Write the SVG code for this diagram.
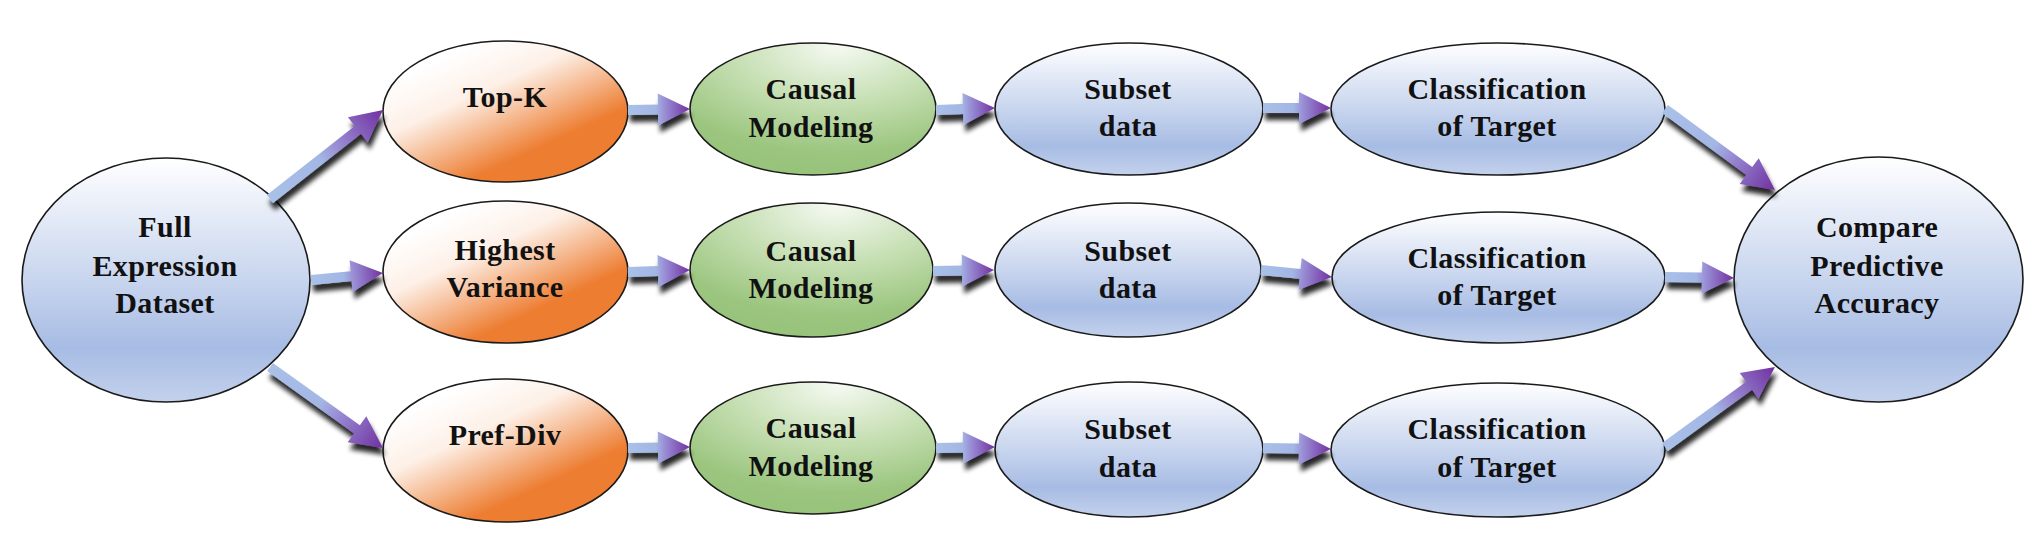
<svg xmlns="http://www.w3.org/2000/svg" width="2044" height="548" viewBox="0 0 2044 548">
<defs>
<linearGradient id="gBlue" x1="0" y1="0" x2="0" y2="1">
<stop offset="0" stop-color="#ffffff"/>
<stop offset="0.15" stop-color="#eef2fa"/>
<stop offset="0.5" stop-color="#c8d5ee"/>
<stop offset="0.78" stop-color="#a7bce4"/>
<stop offset="1" stop-color="#c3d1ec"/>
</linearGradient>
<linearGradient id="gOrange" x1="0.2" y1="0.15" x2="0.8" y2="0.9">
<stop offset="0" stop-color="#ffffff"/>
<stop offset="0.3" stop-color="#fdf0e7"/>
<stop offset="0.55" stop-color="#f5b58a"/>
<stop offset="0.78" stop-color="#ed7d31"/>
<stop offset="1" stop-color="#ed7d31"/>
</linearGradient>
<radialGradient id="gGreen" cx="0.6" cy="0.02" r="0.95" fx="0.6" fy="0.02">
<stop offset="0" stop-color="#f6faf3"/>
<stop offset="0.45" stop-color="#c6dfb3"/>
<stop offset="0.85" stop-color="#9cc680"/>
<stop offset="1" stop-color="#98c37b"/>
</radialGradient>
<linearGradient id="gArrow" x1="0" y1="0" x2="1" y2="0">
<stop offset="0" stop-color="#a9c1e9"/>
<stop offset="0.45" stop-color="#a3b6e4"/>
<stop offset="0.6" stop-color="#988cd4"/>
<stop offset="1" stop-color="#7030a0"/>
</linearGradient>
<filter id="shadow" filterUnits="userSpaceOnUse" x="0" y="0" width="2044" height="548">
<feGaussianBlur in="SourceAlpha" stdDeviation="2.6"/>
<feOffset dx="2" dy="7" result="b"/>
<feComponentTransfer><feFuncA type="linear" slope="0.85"/></feComponentTransfer>
<feMerge><feMergeNode/><feMergeNode in="SourceGraphic"/></feMerge>
</filter>
</defs>
<style>
.node ellipse{stroke:#1a1a1a;stroke-width:1.6}
.blue{fill:url(#gBlue)}
.orange{fill:url(#gOrange)}
.green{fill:url(#gGreen)}
text{font-family:"Liberation Serif","Times New Roman",serif;font-weight:bold;font-size:30px;fill:#111;text-anchor:middle;letter-spacing:0.4px}
.arrow{fill:url(#gArrow)}
</style>
<rect width="2044" height="548" fill="#ffffff"/>

<g id="n-full" class="node"><ellipse class="blue" cx="166" cy="280" rx="144" ry="122"/>
<text x="165" y="237">Full</text><text x="165" y="276">Expression</text><text x="165" y="313">Dataset</text></g>

<g id="n-topk" class="node"><ellipse class="orange" cx="505.5" cy="111.5" rx="122.5" ry="70.5"/>
<text x="505" y="107">Top-K</text></g>
<g id="n-hv" class="node"><ellipse class="orange" cx="505.5" cy="272" rx="122.5" ry="71"/>
<text x="505" y="260">Highest</text><text x="505" y="297">Variance</text></g>
<g id="n-pd" class="node"><ellipse class="orange" cx="505.5" cy="450.5" rx="122.5" ry="71.5"/>
<text x="505" y="445">Pref-Div</text></g>

<g id="n-causal1" class="node"><ellipse class="green" cx="813" cy="109" rx="123" ry="66"/>
<text x="811" y="99">Causal</text><text x="811" y="137">Modeling</text></g>
<g id="n-causal2" class="node"><ellipse class="green" cx="811.5" cy="270" rx="121.5" ry="67"/>
<text x="811" y="261">Causal</text><text x="811" y="298">Modeling</text></g>
<g id="n-causal3" class="node"><ellipse class="green" cx="813" cy="448" rx="123" ry="66"/>
<text x="811" y="438">Causal</text><text x="811" y="476">Modeling</text></g>

<g id="n-subset1" class="node"><ellipse class="blue" cx="1129" cy="109" rx="134" ry="66"/>
<text x="1128" y="99">Subset</text><text x="1128" y="136">data</text></g>
<g id="n-subset2" class="node"><ellipse class="blue" cx="1128" cy="270" rx="133" ry="67"/>
<text x="1128" y="261">Subset</text><text x="1128" y="298">data</text></g>
<g id="n-subset3" class="node"><ellipse class="blue" cx="1129" cy="449.5" rx="134" ry="67.5"/>
<text x="1128" y="439">Subset</text><text x="1128" y="477">data</text></g>

<g id="n-class1" class="node"><ellipse class="blue" cx="1498" cy="109" rx="167" ry="66"/>
<text x="1497" y="99">Classification</text><text x="1497" y="136">of Target</text></g>
<g id="n-class2" class="node"><ellipse class="blue" cx="1498.5" cy="277.5" rx="166.5" ry="65.5"/>
<text x="1497" y="268">Classification</text><text x="1497" y="305">of Target</text></g>
<g id="n-class3" class="node"><ellipse class="blue" cx="1498" cy="450" rx="167" ry="67"/>
<text x="1497" y="439">Classification</text><text x="1497" y="477">of Target</text></g>

<g id="n-compare" class="node"><ellipse class="blue" cx="1878.5" cy="279.5" rx="144.5" ry="122.5"/>
<text x="1877" y="237">Compare</text><text x="1877" y="276">Predictive</text><text x="1877" y="313">Accuracy</text></g>

<g id="connectors">
<g filter="url(#shadow)"><path class="arrow" transform="translate(270,199) rotate(-38.2)" d="M0,-5H111.8V-16L143.8,0L111.8,16V5H0Z"/></g>
<g filter="url(#shadow)"><path class="arrow" transform="translate(311,280) rotate(-5.55)" d="M0,-5H40.3V-16L72.3,0L40.3,16V5H0Z"/></g>
<g filter="url(#shadow)"><path class="arrow" transform="translate(270,367) rotate(35.63)" d="M0,-5H107V-16L139,0L107,16V5H0Z"/></g>
<g filter="url(#shadow)"><path class="arrow" transform="translate(628,110) rotate(-0.92)" d="M0,-5H30V-16L62,0L30,16V5H0Z"/></g>
<g filter="url(#shadow)"><path class="arrow" transform="translate(628,272) rotate(-1.85)" d="M0,-5H30V-16L62,0L30,16V5H0Z"/></g>
<g filter="url(#shadow)"><path class="arrow" transform="translate(628,448) rotate(-0.92)" d="M0,-5H30V-16L62,0L30,16V5H0Z"/></g>
<g filter="url(#shadow)"><path class="arrow" transform="translate(936,110) rotate(-1.94)" d="M0,-5H27V-16L59,0L27,16V5H0Z"/></g>
<g filter="url(#shadow)"><path class="arrow" transform="translate(933,271) rotate(-0.94)" d="M0,-5H29V-16L61,0L29,16V5H0Z"/></g>
<g filter="url(#shadow)"><path class="arrow" transform="translate(936,448) rotate(-0.97)" d="M0,-5H27V-16L59,0L27,16V5H0Z"/></g>
<g filter="url(#shadow)"><path class="arrow" transform="translate(1263,108)" d="M0,-5H36V-16L68,0L36,16V5H0Z"/></g>
<g filter="url(#shadow)"><path class="arrow" transform="translate(1261,270) rotate(5.63)" d="M0,-5H39.3V-16L71.3,0L39.3,16V5H0Z"/></g>
<g filter="url(#shadow)"><path class="arrow" transform="translate(1263,448) rotate(0.84)" d="M0,-5H36V-16L68,0L36,16V5H0Z"/></g>
<g filter="url(#shadow)"><path class="arrow" transform="translate(1665,109) rotate(36.36)" d="M0,-5H104.6V-16L136.6,0L104.6,16V5H0Z"/></g>
<g filter="url(#shadow)"><path class="arrow" transform="translate(1665,277) rotate(0.83)" d="M0,-5H37V-16L69,0L37,16V5H0Z"/></g>
<g filter="url(#shadow)"><path class="arrow" transform="translate(1665,447) rotate(-36.03)" d="M0,-5H104V-16L136,0L104,16V5H0Z"/></g>
</g>
</svg>
